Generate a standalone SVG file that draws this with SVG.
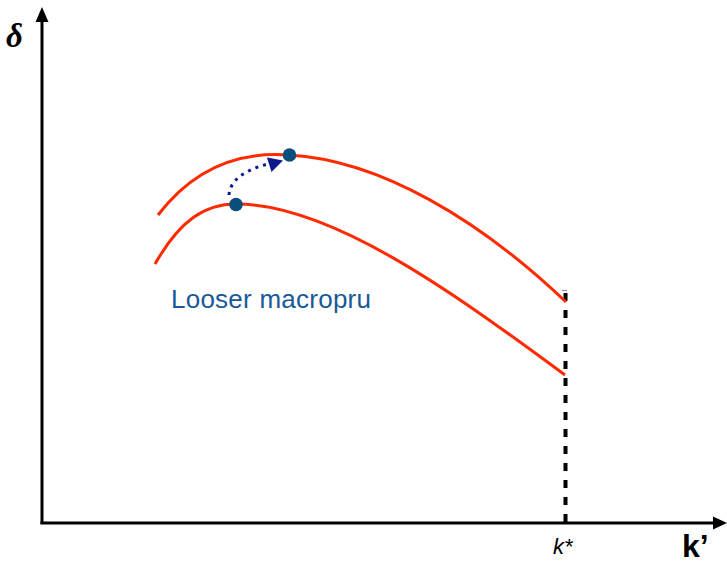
<svg xmlns="http://www.w3.org/2000/svg" width="727" height="564" viewBox="0 0 727 564">
<style>
.axis{stroke:#000;stroke-width:3;fill:none}
.curve{stroke:#ff2a00;stroke-width:3;fill:none}
.pt{fill:#0b4f7f}
.lbl{font-family:"Liberation Sans",Arial,sans-serif}
</style>
<rect width="727" height="564" fill="#fff"/>
<g id="axes">
<line class="axis" x1="42" y1="524" x2="42" y2="20"/>
<polygon points="42,7 35.5,22 48.5,22" fill="#000"/>
<line class="axis" x1="40.5" y1="523" x2="714" y2="523"/>
<polygon points="727,523 713,516.5 713,529.5" fill="#000"/>
</g>
<g id="kstar-line">
<line x1="565.5" y1="293" x2="565.5" y2="523" stroke="#000" stroke-width="4" stroke-dasharray="8 9"/>
<line x1="562" y1="290.5" x2="567" y2="290.5" stroke="#888" stroke-width="1"/>
</g>
<g id="curve-upper">
<path class="curve" d="M158,215 C200,160 250,152 289,155 C380,160 480,220 566,302"/>
</g>
<g id="curve-lower">
<path class="curve" d="M155,264 C180,220 205,204 236,204 C330,204 450,290 565,375"/>
</g>
<g id="connectors">
<path d="M229,195 C230,180 245,170 268,164" stroke="#0a1a8a" stroke-width="3" fill="none" stroke-dasharray="3 5"/>
<polygon points="267,157.5 283,160.5 271.5,172" fill="#0a1a8a"/>
</g>
<g id="point-lower"><circle class="pt" cx="236" cy="204.5" r="6.8"/></g>
<g id="point-upper"><circle class="pt" cx="289.5" cy="155" r="6.8"/></g>
<g id="labels">
<text x="6" y="47" font-family="'Liberation Serif','Times New Roman',serif" font-style="italic" font-weight="bold" font-size="33">δ</text>
<text class="lbl" x="171" y="308" font-size="26" fill="#17599a" textLength="200" lengthAdjust="spacing">Looser macropru</text>
<text class="lbl" x="553" y="554" font-size="22" font-style="italic">k*</text>
<text class="lbl" x="682" y="557" font-size="32" font-weight="bold">k’</text>
</g>
</svg>
